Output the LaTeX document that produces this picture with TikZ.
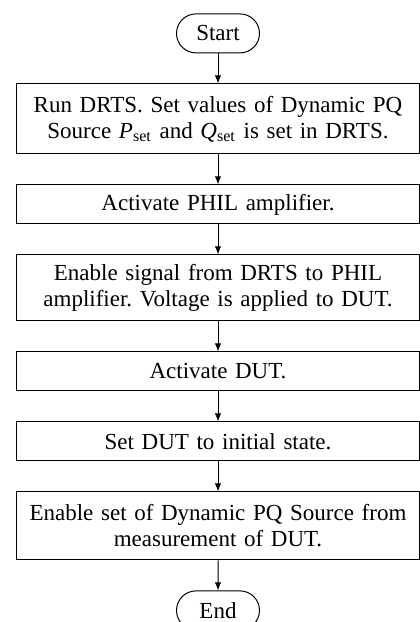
\documentclass[tikz,border=0pt]{standalone}
\usepackage{fontspec}
\setmainfont{Liberation Serif}
\frenchspacing
\usetikzlibrary{matrix,shapes.misc,arrows.meta}

\begin{document}
\begin{tikzpicture}[
    stepbox/.style={draw, line width=0.5pt, rectangle, text width=195pt,
                    inner xsep=3pt, inner ysep=2pt, align=center,
                    minimum height=19.5pt},
    tallbox/.style={stepbox, minimum height=34pt},
    term/.style={draw, line width=0.5pt, rounded rectangle,
                 minimum width=41.5pt, minimum height=19.5pt, inner sep=0pt},
    flow/.style={-{Latex[length=4pt,width=3.2pt]}, line width=0.5pt}]
    \useasboundingbox (0,0) rectangle (209.5pt,-311pt);
    \matrix (chart) [matrix of nodes, inner sep=0pt,
            row sep=15pt, anchor=north,
            nodes={font=\fontsize{11.5}{13}\selectfont}] at (109pt,-6.5pt) {
      |[term](start)| Start \\
      |[tallbox, minimum height=35pt](run)| {Run DRTS. Set values of Dynamic PQ\\
        Source \textit{P}\textsubscript{set} and \textit{Q}\textsubscript{set} is set in DRTS.} \\
      |[stepbox](amp)| Activate PHIL amplifier. \\
      |[tallbox, minimum height=33pt](signal)| {Enable signal from DRTS to PHIL\\
        amplifier. Voltage is applied to DUT.} \\
      |[stepbox](dut)| Activate DUT. \\
      |[stepbox](init)| Set DUT to initial state. \\
      |[tallbox](meas)| {Enable set of Dynamic PQ Source from\\
        measurement of DUT.} \\
      |[term](end)| End \\
    };
    % flow of the test procedure
    \foreach \a/\b in {start/run, run/amp, amp/signal, signal/dut,
                       dut/init, init/meas, meas/end}
      \draw[flow] (\a) -- (\b);
\end{tikzpicture}
\end{document}
